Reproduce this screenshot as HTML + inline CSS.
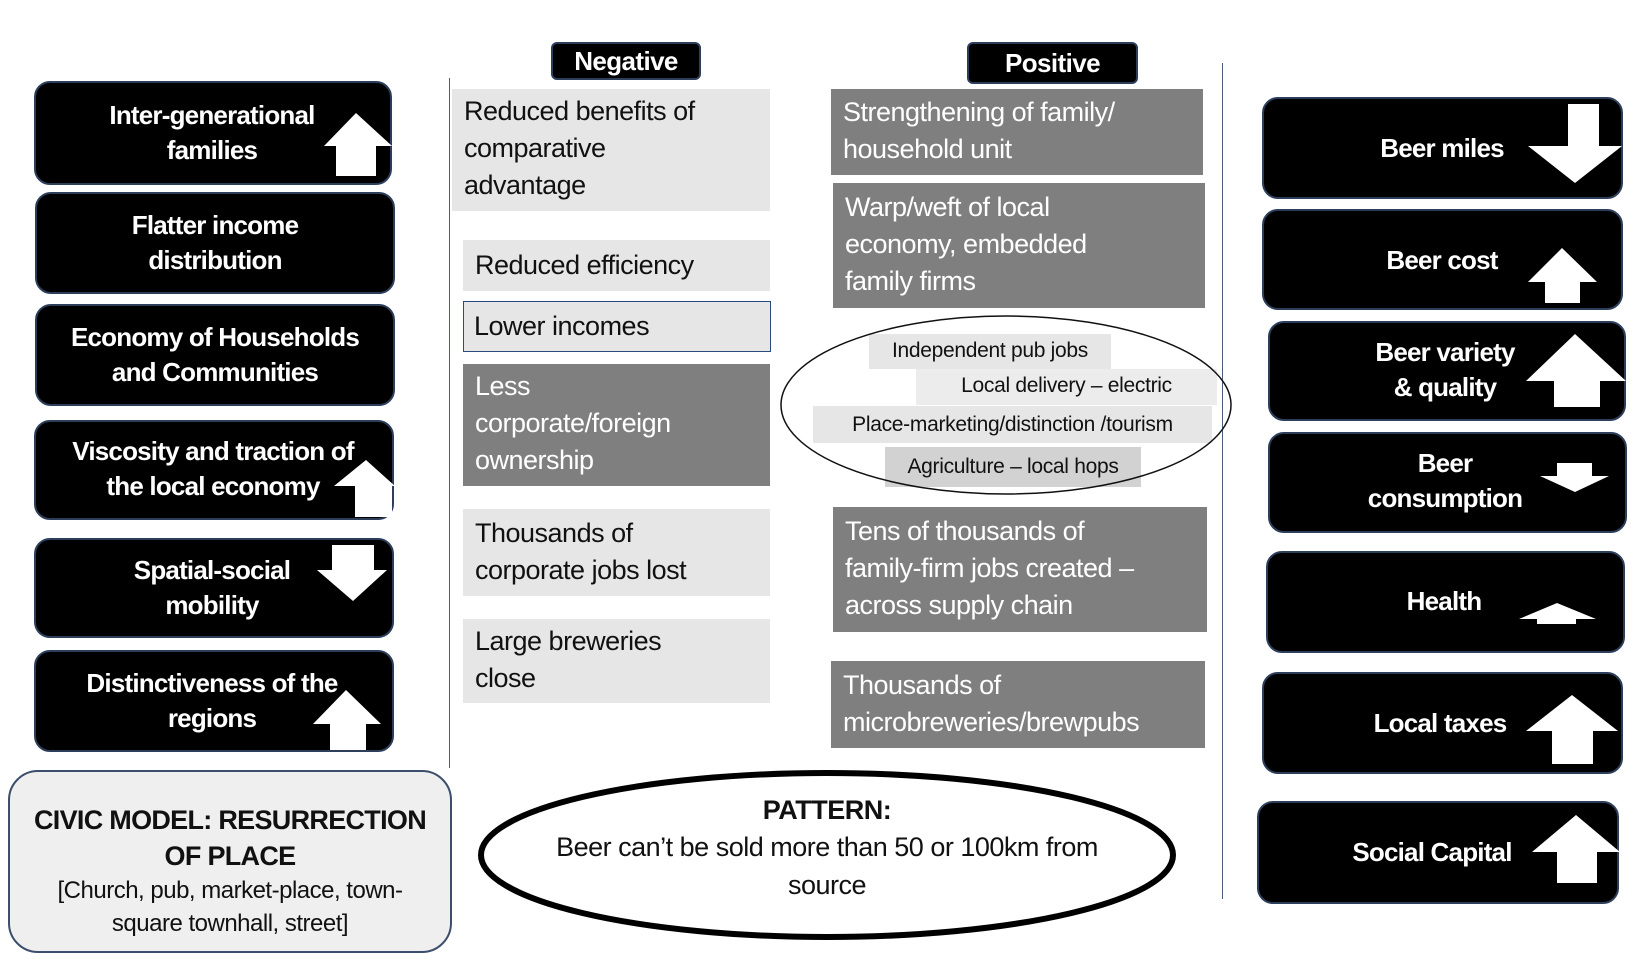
<!DOCTYPE html>
<html><head><meta charset="utf-8">
<style>
body{margin:0;width:1638px;height:971px;background:#fff;position:relative;overflow:hidden;font-family:"Liberation Sans",sans-serif;}
.b{position:absolute;background:#000;border-radius:16px;border:2px solid #2c3e5a;box-sizing:border-box;}
.t{position:absolute;color:#fff;font-weight:bold;font-size:26px;line-height:35px;text-align:center;letter-spacing:-0.8px;white-space:nowrap;}
.g{position:absolute;background:#e6e6e6;color:#111;font-size:27px;line-height:37px;letter-spacing:-0.5px;box-sizing:border-box;padding-left:12px;white-space:nowrap;}
.d{position:absolute;background:#7f7f7f;color:#fff;font-size:27px;line-height:37px;letter-spacing:-0.5px;box-sizing:border-box;padding-left:12px;white-space:nowrap;}
.s{position:absolute;font-size:21px;color:#111;line-height:34px;white-space:nowrap;letter-spacing:-0.3px;}
.hd{position:absolute;background:#000;color:#fff;font-weight:bold;font-size:26px;border-radius:6px;text-align:center;letter-spacing:-0.6px;border:2px solid #2c3e5a;box-sizing:border-box;}
svg{position:absolute;left:0;top:0;}
</style></head><body>

<div style="position:absolute;left:449px;top:78px;width:1px;height:690px;background:#4a5d7a"></div>
<div style="position:absolute;left:1222px;top:63px;width:1px;height:836px;background:#4a5d7a"></div>

<div class="hd" style="left:551px;top:42px;width:150px;height:38px;line-height:34px">Negative</div>
<div class="hd" style="left:967px;top:42px;width:171px;height:42px;line-height:38px">Positive</div>

<div class="b" style="left:34px;top:81px;width:358px;height:104px"></div>
<div class="t" style="left:34px;top:98px;width:356px">Inter-generational<br>families</div>
<div class="b" style="left:35px;top:192px;width:360px;height:102px"></div>
<div class="t" style="left:35px;top:208px;width:360px">Flatter income<br>distribution</div>
<div class="b" style="left:35px;top:304px;width:360px;height:102px"></div>
<div class="t" style="left:35px;top:320px;width:360px">Economy of Households<br>and Communities</div>
<div class="b" style="left:34px;top:420px;width:360px;height:100px"></div>
<div class="t" style="left:34px;top:434px;width:358px">Viscosity and traction of<br>the local economy</div>
<div class="b" style="left:34px;top:538px;width:360px;height:100px"></div>
<div class="t" style="left:34px;top:553px;width:356px">Spatial-social<br>mobility</div>
<div class="b" style="left:34px;top:650px;width:360px;height:102px"></div>
<div class="t" style="left:34px;top:666px;width:356px">Distinctiveness of the<br>regions</div>

<div style="position:absolute;left:8px;top:770px;width:444px;height:183px;background:#efefef;border:2px solid #3c4e6c;border-radius:30px;box-sizing:border-box;text-align:center;color:#111">
<div style="font-weight:bold;font-size:27px;line-height:36px;margin-top:30px;letter-spacing:-0.7px">CIVIC MODEL: RESURRECTION<br>OF PLACE</div>
<div style="font-size:24px;line-height:33px;letter-spacing:-0.5px">[Church, pub, market-place, town-<br>square townhall, street]</div>
</div>

<div class="g" style="left:452px;top:89px;width:318px;height:122px;padding-top:4px">Reduced benefits of<br>comparative<br>advantage</div>
<div class="g" style="left:463px;top:240px;width:307px;height:51px;line-height:51px">Reduced efficiency</div>
<div class="g" style="left:463px;top:301px;width:308px;height:51px;line-height:48px;border:1.5px solid #2c4a80;padding-left:10px">Lower incomes</div>
<div class="d" style="left:463px;top:364px;width:307px;height:122px;padding-top:4px">Less<br>corporate/foreign<br>ownership</div>
<div class="g" style="left:463px;top:509px;width:307px;height:87px;padding-top:6px">Thousands of<br>corporate jobs lost</div>
<div class="g" style="left:463px;top:619px;width:307px;height:84px;padding-top:4px">Large breweries<br>close</div>

<div class="d" style="left:831px;top:89px;width:372px;height:86px;padding-top:5px">Strengthening of family/<br>household unit</div>
<div class="d" style="left:833px;top:183px;width:372px;height:125px;padding-top:6px">Warp/weft of local<br>economy, embedded<br>family firms</div>
<div class="d" style="left:833px;top:507px;width:374px;height:125px;padding-top:6px">Tens of thousands of<br>family-firm jobs created –<br>across supply chain</div>
<div class="d" style="left:831px;top:661px;width:374px;height:87px;padding-top:6px">Thousands of<br>microbreweries/brewpubs</div>

<div class="s" style="left:869px;top:334px;width:242px;height:35px;background:#e6e6e6;text-align:center">Independent pub jobs</div>
<div class="s" style="left:916px;top:369px;width:301px;height:36px;background:#ececec;text-align:center">Local delivery – electric</div>
<div class="s" style="left:813px;top:406px;width:399px;height:37px;background:#e6e6e6;text-align:center;line-height:37px">Place-marketing/distinction /tourism</div>
<div class="s" style="left:885px;top:447px;width:256px;height:40px;background:#d2d2d2;text-align:center;line-height:40px">Agriculture – local hops</div>

<div class="b" style="left:1262px;top:97px;width:361px;height:102px"></div>
<div class="t" style="left:1262px;top:131px;width:360px">Beer miles</div>
<div class="b" style="left:1262px;top:209px;width:361px;height:101px"></div>
<div class="t" style="left:1262px;top:243px;width:360px">Beer cost</div>
<div class="b" style="left:1268px;top:321px;width:358px;height:100px"></div>
<div class="t" style="left:1268px;top:335px;width:354px">Beer variety<br>&amp; quality</div>
<div class="b" style="left:1268px;top:432px;width:359px;height:101px"></div>
<div class="t" style="left:1268px;top:446px;width:354px">Beer<br>consumption</div>
<div class="b" style="left:1266px;top:551px;width:359px;height:102px"></div>
<div class="t" style="left:1266px;top:584px;width:356px">Health</div>
<div class="b" style="left:1262px;top:672px;width:361px;height:102px"></div>
<div class="t" style="left:1262px;top:706px;width:356px">Local taxes</div>
<div class="b" style="left:1257px;top:801px;width:362px;height:103px"></div>
<div class="t" style="left:1257px;top:835px;width:350px">Social Capital</div>

<svg width="1638" height="971">
<ellipse cx="1006" cy="405" rx="225" ry="89" fill="none" stroke="#111" stroke-width="1.5"/>
<ellipse cx="827" cy="855" rx="346" ry="82" fill="none" stroke="#000" stroke-width="6"/>
<g fill="#fff">
<polygon points="356,113 392,146 376,146 376,176 336,176 336,146 324,146"/>
<polygon points="366,460 395,486 392,486 392,517 355,517 355,486 334,486"/>
<polygon points="332,545 374,545 374,570 387,570 353,601 317,570 332,570"/>
<polygon points="346,690 381,724 366,724 366,750 330,750 330,724 313,724"/>
<polygon points="1568,104 1599,104 1599,146 1622,146 1575,183 1528,146 1568,146"/>
<polygon points="1562,248 1597,282 1580,282 1580,303 1545,303 1545,282 1528,282"/>
<polygon points="1575,334 1626,381 1600,381 1600,407 1554,407 1554,381 1526,381"/>
<polygon points="1557,463 1592,463 1592,476 1609,476 1575,492 1540,476 1557,476"/>
<polygon points="1557,603 1596,619 1576,619 1576,624 1537,624 1537,619 1519,619"/>
<polygon points="1572,695 1618,731 1593,731 1593,764 1552,764 1552,731 1526,731"/>
<polygon points="1576,815 1620,852 1597,852 1597,883 1557,883 1557,852 1532,852"/>
</g>
<g font-family="Liberation Sans, sans-serif" text-anchor="middle" fill="#111" font-size="27" letter-spacing="-0.5">
<text x="827" y="819" font-weight="bold">PATTERN:</text>
<text x="827" y="856">Beer can’t be sold more than 50 or 100km from</text>
<text x="827" y="894">source</text>
</g>
</svg>
</body></html>
